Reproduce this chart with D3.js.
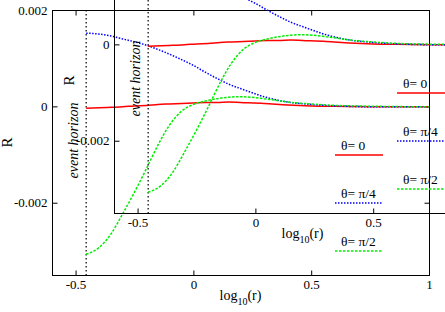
<!DOCTYPE html>
<html>
<head>
<meta charset="utf-8">
<script src="https://cdn.jsdelivr.net/npm/d3@7"></script>
<style>
    body { margin: 0; background: #fff; }
    text { font-family: "Liberation Serif", "DejaVu Serif", serif; fill: #000; }
</style>
</head>
<body>
<svg id="chart" width="445" height="312"></svg>
<script>
// log10(r) sample points
var logR = [-0.455, -0.4, -0.35, -0.3, -0.25, -0.2, -0.15, -0.1, -0.05, 0, 0.05, 0.1, 0.15, 0.2, 0.3, 0.4, 0.5, 0.6, 0.8, 1.0];

var rTheta0 = [-0.00004, -0.00003, -0.00002, -0.00001, 0.00001, 0.00002, 0.00004, 0.00005, 0.00006, 0.00007,
    0.00008, 0.00008, 0.00009, 0.00008, 0.00006, 0.00003, 0.00001, 0, -0.00001, -0.00001];
var rTheta45 = [0.00152, 0.00150, 0.00146, 0.00140, 0.00134, 0.00127, 0.00118, 0.00108, 0.00097, 0.00085,
    0.00071, 0.00058, 0.00046, 0.00037, 0.00020, 0.00009, 0.00004, 0.00001, -0.00001, -0.00001];
var rTheta90 = [-0.00307, -0.00293, -0.00265, -0.00223, -0.00178, -0.00130, -0.00080, -0.00038, -0.00010, 0.00004,
    0.00011, 0.00016, 0.00019, 0.00020, 0.00016, 0.00009, 0.00005, 0.00002, 0, -0.00001];

var seriesNames = ["θ= 0", "θ= π/4", "θ= π/2"];
var xTicks = [-0.5, 0, 0.5, 1];
var xTickLabels = ["-0.5", "0", "0.5", "1"];
var yTicks = [-0.002, 0, 0.002];
var yTickLabels = ["-0.002", "0", "0.002"];
var horizon = -0.455;

var config = {
    left: 52, right: 429, top: 10, bottom: 275,
    xDomain: [-0.6, 1],
    yDomain: [-0.0035, 0.002],
    styles: [
        { color: "#ff0000", dash: null },
        { color: "#0000ff", dash: "1.5,1.5" },
        { color: "#00ee00", dash: "2.5,1.5" }
    ],
    // the picture shows the same plot twice, the second one shifted up-right
    copies: [[0, 0], [62, -62]]
};

var svg = d3.select("#chart");

var drawPlot = function (dx, dy) {
    var g = svg.append("g").attr("transform", "translate(" + dx + "," + dy + ")");

    var x = d3.scaleLinear().domain(config.xDomain).range([config.left, config.right]);
    var y = d3.scaleLinear().domain(config.yDomain).range([config.bottom, config.top]);

    var fmtX = function (d) { return xTickLabels[xTicks.indexOf(d)]; };
    var fmtY = function (d) { return yTickLabels[yTicks.indexOf(d)]; };

    var axes = [
        [d3.axisLeft(y).tickValues(yTicks).tickFormat(fmtY).tickPadding(5), "translate(" + (config.left + 0.5) + ",0)"],
        [d3.axisRight(y).tickValues(yTicks).tickFormat(""), "translate(" + (config.right + 0.5) + ",0)"],
        [d3.axisBottom(x).tickValues(xTicks).tickFormat(fmtX).tickPadding(4), "translate(0," + (config.bottom + 0.5) + ")"],
        [d3.axisTop(x).tickValues(xTicks).tickFormat(""), "translate(0," + (config.top + 0.5) + ")"]
    ];
    axes.forEach(function (a) {
        var ax = g.append("g")
            .attr("transform", a[1])
            .call(a[0].tickSize(-5));
        ax.select(".domain").remove();
        ax.selectAll("line").attr("stroke", "#000");
        ax.selectAll("text").attr("font-size", 13);
    });

    g.append("rect")
        .attr("x", config.left + 0.5)
        .attr("y", config.top + 0.5)
        .attr("width", config.right - config.left)
        .attr("height", config.bottom - config.top)
        .attr("fill", "none")
        .attr("stroke", "#000");

    // event horizon
    g.append("line")
        .attr("x1", x(horizon)).attr("x2", x(horizon))
        .attr("y1", config.top).attr("y2", config.bottom)
        .attr("stroke", "#000")
        .attr("stroke-width", 1.2)
        .attr("stroke-dasharray", "1.5,2.5");

    g.append("text")
        .attr("transform", "translate(" + (x(horizon) - 8.5) + "," + ((config.top + config.bottom) / 2 - 2) + ") rotate(-90)")
        .attr("text-anchor", "middle")
        .attr("font-size", 14)
        .attr("font-style", "italic")
        .text("event horizon");

    var line = d3.line()
        .x(function (d) { return x(d[0]); })
        .y(function (d) { return y(d[1]); })
        .curve(d3.curveMonotoneX);

    [rTheta0, rTheta45, rTheta90].forEach(function (vals, i) {
        g.append("path")
            .datum(logR.map(function (v, k) { return [v, vals[k]]; }))
            .attr("d", line)
            .attr("fill", "none")
            .attr("stroke", config.styles[i].color)
            .attr("stroke-width", 1.5)
            .attr("stroke-dasharray", config.styles[i].dash);
    });

    // legend (text with a line sample below)
    seriesNames.forEach(function (name, i) {
        var ly = 155 + i * 48;
        g.append("text")
            .attr("x", 341)
            .attr("y", ly - 5)
            .attr("font-size", 13.5)
            .text(name);
        g.append("line")
            .attr("x1", 335).attr("x2", 383)
            .attr("y1", ly).attr("y2", ly)
            .attr("stroke", config.styles[i].color)
            .attr("stroke-width", 1.5)
            .attr("stroke-dasharray", config.styles[i].dash);
    });

    // axis titles
    g.append("text")
        .attr("transform", "translate(12," + ((config.top + config.bottom) / 2) + ") rotate(-90)")
        .attr("text-anchor", "middle")
        .attr("font-size", 15)
        .text("R");

    var xl = g.append("text")
        .attr("x", (config.left + config.right) / 2)
        .attr("y", 299.5)
        .attr("text-anchor", "middle")
        .attr("font-size", 14);
    xl.append("tspan").text("log");
    xl.append("tspan").attr("font-size", 10).attr("dy", 5).text("10");
    xl.append("tspan").attr("dy", -5).text("(r)");
};

config.copies.forEach(function (c) {
    drawPlot(c[0], c[1]);
});
</script>
</body>
</html>
